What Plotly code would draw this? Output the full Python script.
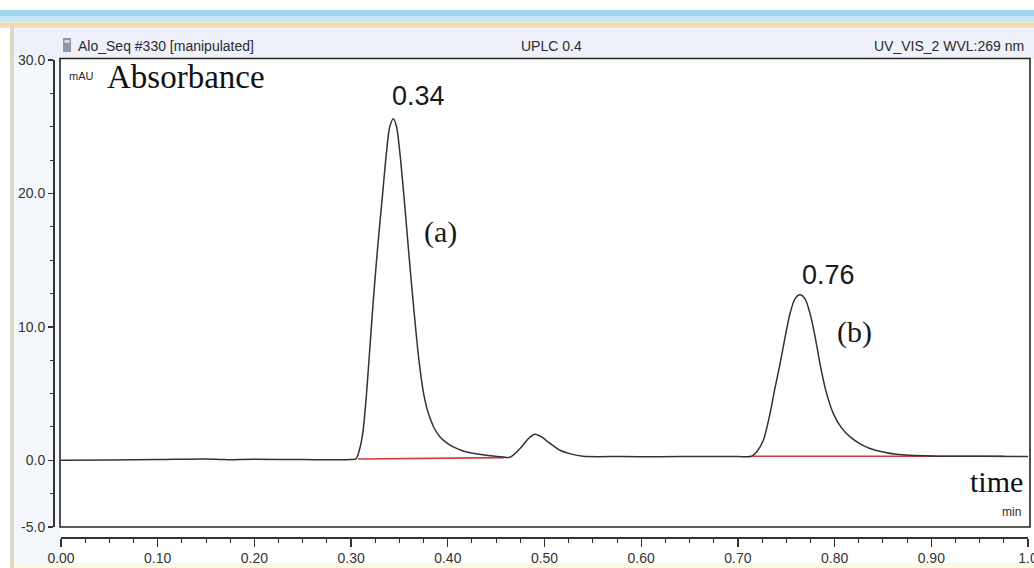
import plotly.graph_objects as go

# ---------------- data ----------------
time_min = [0.000, 0.050, 0.100, 0.150, 0.170, 0.200, 0.250, 0.300, 0.305,
            0.3085, 0.312, 0.3154, 0.319, 0.323, 0.3275, 0.332, 0.3365, 0.340,
            0.3437, 0.347, 0.3505, 0.355, 0.3597, 0.364, 0.370, 0.375,
            0.380, 0.386, 0.392, 0.400, 0.4057, 0.415, 0.423, 0.440, 0.457,
            0.462,
            0.466, 0.475, 0.483, 0.490, 0.497, 0.505, 0.516, 0.526, 0.540,
            0.580, 0.620, 0.660, 0.700, 0.714,
            0.7194, 0.7263, 0.7332, 0.738, 0.7435, 0.749, 0.7539, 0.759,
            0.7642, 0.7694, 0.7746, 0.780, 0.785, 0.791, 0.7987, 0.807,
            0.816, 0.826, 0.8366, 0.850, 0.864, 0.900, 0.950, 1.000]
absorbance_mau = [0.00, 0.02, 0.05, 0.10, 0.05, 0.08, 0.05, 0.05, 0.10,
                  0.75, 2.0, 4.5, 8.0, 12.0, 16.0, 19.5, 23.0, 25.0,
                  25.6, 25.0, 23.0, 19.5, 15.5, 12.0, 7.6, 5.0,
                  3.5, 2.4, 1.75, 1.25, 1.0, 0.72, 0.57, 0.37, 0.25,
                  0.20,
                  0.30, 0.90, 1.60, 1.95, 1.75, 1.30, 0.75, 0.50, 0.30,
                  0.28, 0.27, 0.28, 0.28, 0.30,
                  0.62, 1.5, 3.5, 5.3, 7.2, 9.3, 11.0, 12.1,
                  12.4, 12.1, 11.0, 9.2, 7.2, 5.2, 3.5, 2.45,
                  1.75, 1.25, 0.88, 0.62, 0.45, 0.32, 0.30, 0.28]

baseline_a_time = [0.307, 0.458]
baseline_a_mau = [0.10, 0.20]
baseline_b_time = [0.715, 0.975]
baseline_b_mau = [0.30, 0.30]

peak_labels = ["0.34", "0.76"]
peak_names = ["(a)", "(b)"]

x_tick_vals = [0.0, 0.1, 0.2, 0.3, 0.4, 0.5, 0.6, 0.7, 0.8, 0.9, 1.0]
x_tick_text = ["0.00", "0.10", "0.20", "0.30", "0.40", "0.50", "0.60",
               "0.70", "0.80", "0.90", "1.0"]
y_tick_vals = [-5, 0, 10, 20, 30]
y_tick_text = ["-5.0", "0.0", "10.0", "20.0", "30.0"]

header_left = "Alo_Seq #330 [manipulated]"
header_mid = "UPLC 0.4"
header_right = "UV_VIS_2 WVL:269 nm"

# ---------------- layout geometry (pixels) ----------------
W, H = 1034, 568
L, R, T, B = 40, 6, 60, 21
PW, PH = W - L - R, H - T - B


def px(x):
    return (x - L) / PW


def py(y):
    return (H - B - y) / PH


SANS = "Liberation Sans, Arial, sans-serif"
SERIF = "Liberation Serif, Times New Roman, serif"
INK = "#2b2b2b"

fig = go.Figure()

fig.add_trace(go.Scatter(x=baseline_a_time, y=baseline_a_mau, mode="lines",
                         line=dict(color="#d23a3a", width=1.6),
                         hoverinfo="skip", showlegend=False))
fig.add_trace(go.Scatter(x=baseline_b_time, y=baseline_b_mau, mode="lines",
                         line=dict(color="#d23a3a", width=1.6),
                         hoverinfo="skip", showlegend=False))
fig.add_trace(go.Scatter(x=time_min, y=absorbance_mau, mode="lines",
                         line=dict(color="#333333", width=1.5,
                                   shape="spline", smoothing=0.8),
                         showlegend=False))

shapes = []


def rect(x0, y0, x1, y1, fill, line_color=None, lw=0, layer="below"):
    shapes.append(dict(type="rect", xref="paper", yref="paper",
                       x0=px(x0), x1=px(x1), y0=py(y1), y1=py(y0),
                       fillcolor=fill, layer=layer,
                       line=dict(color=line_color or fill, width=lw)))


# window chrome
rect(0, 10, W, 16, "#9fd5ee")
rect(0, 16, W, 22, "#c6e8f6")
rect(0, 22.5, W, 25, "#e9df9c")
rect(0, 25, W, 28, "#f6dacb")
rect(14, 28, W, 59, "#eef1f9")
rect(14, 59, 60, 563, "#f3f7fc")
rect(10, 23, 14, H, "#e0d9c2")
rect(14, 563, W, H, "#fcf7e1")
rect(63, 38, 71, 52, "#8e99a8")
rect(64.5, 40, 69.5, 43, "#d6dde6")
# plot frame
rect(60, 58.5, 1030, 527, "#ffffff", line_color="#262626", lw=1.6)

annotations = []


def text(x, y, s, size, family=SANS, xanchor="center", color=INK):
    annotations.append(dict(x=px(x), y=py(y), xref="paper", yref="paper",
                            text=s, showarrow=False, xanchor=xanchor,
                            yanchor="middle",
                            font=dict(size=size, family=family, color=color)))


text(76, 46, header_left, 14, xanchor="left")
text(551, 46, header_mid, 14)
text(1026, 46, header_right, 14, xanchor="right")
text(67, 76, "mAU", 11, xanchor="left")
text(105, 77, "Absorbance", 33, family=SERIF, xanchor="left", color="#111111")
text(996, 481, "time", 30, family=SERIF, color="#111111")
text(1011, 512, "min", 12)

# peak labels in data coordinates
peak_label_pos = [(0.370, 27.3), (0.794, 13.9)]
peak_name_pos = [(0.392, 17.1), (0.821, 9.6)]
for (xx, yy), s in zip(peak_label_pos, peak_labels):
    annotations.append(dict(x=xx, y=yy, xref="x", yref="y", text=s,
                            showarrow=False,
                            font=dict(size=27, family=SANS, color="#1a1a1a")))
for (xx, yy), s in zip(peak_name_pos, peak_names):
    annotations.append(dict(x=xx, y=yy, xref="x", yref="y", text=s,
                            showarrow=False,
                            font=dict(size=30, family=SERIF, color="#1a1a1a")))

fig.update_layout(
    width=W, height=H, autosize=False,
    margin=dict(l=L, r=R, t=T, b=B, pad=0, autoexpand=False),
    paper_bgcolor="#ffffff",
    plot_bgcolor="rgba(0,0,0,0)",
    shapes=shapes,
    annotations=annotations,
    showlegend=False,
    xaxis=dict(domain=[px(61), 1], range=[0, 1], anchor="free",
               position=py(537), automargin=False,
               showline=True, linecolor="#333333", linewidth=1.5,
               ticks="outside", ticklen=8, tickwidth=1.3, tickcolor="#333333",
               tickvals=x_tick_vals, ticktext=x_tick_text,
               ticklabeloverflow="allow",
               tickfont=dict(family=SANS, size=14, color="#333333"),
               minor=dict(dtick=0.025, tick0=0, ticks="outside", ticklen=4,
                          tickwidth=1, tickcolor="#333333", showgrid=False),
               showgrid=False, zeroline=False, fixedrange=True),
    yaxis=dict(domain=[py(527), 1], range=[-5, 30], anchor="free",
               position=px(53), automargin=False,
               showline=True, linecolor="#333333", linewidth=1.5,
               ticks="outside", ticklen=5, tickwidth=1.3, tickcolor="#333333",
               tickvals=y_tick_vals, ticktext=y_tick_text,
               ticklabeloverflow="allow",
               tickfont=dict(family=SANS, size=14, color="#333333"),
               minor=dict(dtick=2.5, tick0=0, ticks="outside", ticklen=3,
                          tickwidth=1, tickcolor="#333333", showgrid=False),
               showgrid=False, zeroline=False, fixedrange=True),
)

fig.write_html("out.html",
               config={"displayModeBar": False, "staticPlot": True},
               post_script="document.body.style.margin='0';"
                           "document.body.style.overflow='hidden';")
